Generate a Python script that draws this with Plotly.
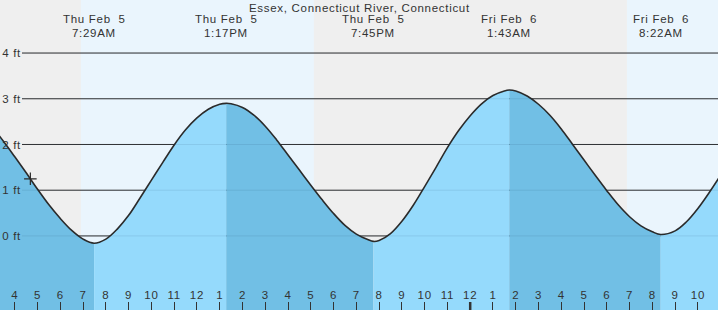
import plotly.graph_objects as go
import pandas as pd

location = "Essex, Connecticut River, Connecticut"

tide_times = [
    "2026-02-05 02:30", "2026-02-05 03:00", "2026-02-05 03:30", "2026-02-05 04:00",
    "2026-02-05 04:30", "2026-02-05 05:00", "2026-02-05 05:30", "2026-02-05 06:00",
    "2026-02-05 06:30", "2026-02-05 07:00", "2026-02-05 07:29", "2026-02-05 08:00",
    "2026-02-05 08:30", "2026-02-05 09:00", "2026-02-05 09:30", "2026-02-05 10:00",
    "2026-02-05 10:30", "2026-02-05 11:00", "2026-02-05 11:30", "2026-02-05 12:00",
    "2026-02-05 12:30", "2026-02-05 13:00", "2026-02-05 13:17", "2026-02-05 13:30",
    "2026-02-05 14:00", "2026-02-05 14:30", "2026-02-05 15:00", "2026-02-05 15:30",
    "2026-02-05 16:00", "2026-02-05 16:30", "2026-02-05 17:00", "2026-02-05 17:30",
    "2026-02-05 18:00", "2026-02-05 18:30", "2026-02-05 19:00", "2026-02-05 19:30",
    "2026-02-05 19:45", "2026-02-05 20:00", "2026-02-05 20:30", "2026-02-05 21:00",
    "2026-02-05 21:30", "2026-02-05 22:00", "2026-02-05 22:30", "2026-02-05 23:00",
    "2026-02-05 23:30", "2026-02-06 00:00", "2026-02-06 00:30", "2026-02-06 01:00",
    "2026-02-06 01:30", "2026-02-06 01:43", "2026-02-06 02:00", "2026-02-06 02:30",
    "2026-02-06 03:00", "2026-02-06 03:30", "2026-02-06 04:00", "2026-02-06 04:30",
    "2026-02-06 05:00", "2026-02-06 05:30", "2026-02-06 06:00", "2026-02-06 06:30",
    "2026-02-06 07:00", "2026-02-06 07:30", "2026-02-06 08:00", "2026-02-06 08:22",
    "2026-02-06 09:00", "2026-02-06 09:30", "2026-02-06 10:00", "2026-02-06 10:30",
    "2026-02-06 11:00", "2026-02-06 11:30",
]
tide_heights = [
    2.68, 2.39, 2.07, 1.73,
    1.38, 1.02, 0.68, 0.38,
    0.12, -0.07, -0.16, -0.07,
    0.15, 0.45, 0.83, 1.22,
    1.61, 1.99, 2.32, 2.58,
    2.77, 2.88, 2.90, 2.89,
    2.81, 2.64, 2.40, 2.10,
    1.77, 1.44, 1.11, 0.79,
    0.49, 0.23, 0.04, -0.08,
    -0.12, -0.10, 0.05, 0.32,
    0.67, 1.08, 1.50, 1.93,
    2.31, 2.63, 2.89, 3.07,
    3.17, 3.19, 3.17, 3.06,
    2.88, 2.64, 2.34, 2.00,
    1.66, 1.32, 0.99, 0.68,
    0.42, 0.22, 0.09, 0.03,
    0.11, 0.31, 0.60, 0.95,
    1.33, 1.73,
]

event_times = ["2026-02-05 07:29", "2026-02-05 13:17", "2026-02-05 19:45",
               "2026-02-06 01:43", "2026-02-06 08:22"]
event_days = ["Thu Feb\u00a0 5", "Thu Feb\u00a0 5", "Thu Feb\u00a0 5",
              "Fri Feb\u00a0 6", "Fri Feb\u00a0 6"]
event_clock = ["7:29AM", "1:17PM", "7:45PM", "1:43AM", "8:22AM"]

daylight_start = ["2026-02-05 06:54", "2026-02-06 06:53"]
daylight_end = ["2026-02-05 17:08", "2026-02-06 12:00"]

now_time = ["2026-02-05 04:41"]
now_height = [1.25]

hour_tick_times = pd.date_range("2026-02-05 04:00", "2026-02-06 11:00", freq="h")
hour_tick_labels = ["4", "5", "6", "7", "8", "9", "10", "11", "12", "1", "2", "3",
                    "4", "5", "6", "7", "8", "9", "10", "11", "12", "1", "2", "3",
                    "4", "5", "6", "7", "8", "9", "10", "11"]
midnight = "2026-02-06 00:00"

y_ticks = [0, 1, 2, 3, 4]
y_tick_labels = ["0 ft", "1 ft", "2 ft", "3 ft", "4 ft"]

x_range = ["2026-02-05 03:21", "2026-02-06 10:53"]
y_range = [-1.62, 5.16]

W, H = 718, 310
FONT = "Arial, Liberation Sans, sans-serif"
TXT = "#333333"
NIGHT = "#efefef"
DAY = "#eaf5fd"
FALL = "#71bfe5"
RISE = "#95dafc"
LS = "letter-spacing:0.7px"


def sp(t):
    return f'<span style="{LS}">{t}</span>'


fig = go.Figure()

# water fills, split at the high / low events
bounds = [0] + [tide_times.index(t) for t in event_times] + [len(tide_times) - 1]
for a, b in zip(bounds[:-1], bounds[1:]):
    xs = tide_times[a:b + 1]
    ys = tide_heights[a:b + 1]
    col = FALL if ys[-1] < ys[0] else RISE
    fig.add_trace(go.Scatter(x=[xs[0], xs[-1]], y=[-3, -3], mode="lines",
                             line=dict(width=0), hoverinfo="skip", showlegend=False))
    fig.add_trace(go.Scatter(x=xs, y=ys, mode="lines", fill="tonexty", fillcolor=col,
                             line=dict(width=0, shape="spline"), hoverinfo="skip",
                             showlegend=False))

# tide curve
fig.add_trace(go.Scatter(x=tide_times, y=tide_heights, mode="lines",
                         line=dict(color="#2b2b2b", width=1.6, shape="spline"),
                         hoverinfo="skip", showlegend=False))

# current time marker
fig.add_trace(go.Scatter(x=now_time, y=now_height, mode="markers",
                         marker=dict(symbol="cross-thin", size=9,
                                     line=dict(color="#2b2b2b", width=1.2)),
                         hoverinfo="skip", showlegend=False))

shapes = []
for s, e in zip(daylight_start, daylight_end):
    shapes.append(dict(type="rect", xref="x", yref="paper", x0=s, x1=e, y0=0, y1=1,
                       fillcolor=DAY, line=dict(width=0), layer="below"))
for v in y_ticks:
    shapes.append(dict(type="line", xref="paper", yref="y", x0=22 / W, x1=1, y0=v, y1=v,
                       line=dict(color="#333333", width=1), layer="below"))
    shapes.append(dict(type="line", xref="paper", yref="y", x0=22 / W, x1=1, y0=v, y1=v,
                       line=dict(color="rgba(0,30,70,0.09)", width=1), layer="above"))
shapes.append(dict(type="line", xref="x", yref="paper", x0=midnight, x1=midnight,
                   y0=0, y1=8 / H, line=dict(color="#333333", width=2.5), layer="above"))

annotations = [dict(text=sp(location), xref="paper", yref="paper", x=0.5, y=1 - 8 / H,
                    xanchor="center", yanchor="middle", showarrow=False,
                    font=dict(family=FONT, size=11.5, color=TXT))]
for t, d, c in zip(event_times, event_days, event_clock):
    annotations.append(dict(text=sp(d), xref="x", yref="paper", x=t, y=1 - 19.5 / H,
                            xanchor="center", yanchor="middle", showarrow=False,
                            font=dict(family=FONT, size=11.5, color=TXT)))
    annotations.append(dict(text=sp(c), xref="x", yref="paper", x=t, y=1 - 32.5 / H,
                            xanchor="center", yanchor="middle", showarrow=False,
                            font=dict(family=FONT, size=11.5, color=TXT)))

fig.update_layout(
    width=W, height=H, margin=dict(l=0, r=0, t=0, b=0, pad=0),
    paper_bgcolor=NIGHT, plot_bgcolor=NIGHT,
    showlegend=False, shapes=shapes, annotations=annotations,
    xaxis=dict(type="date", range=x_range, tickvals=hour_tick_times,
               ticktext=[sp(l) for l in hour_tick_labels],
               ticks="inside", ticklen=8, tickwidth=1, tickcolor="#333333",
               ticklabelposition="inside", showgrid=False, zeroline=False,
               showline=False, tickfont=dict(family=FONT, size=11.5, color=TXT),
               fixedrange=True),
    yaxis=dict(range=y_range, tickvals=y_ticks, ticktext=[sp(l) for l in y_tick_labels],
               ticks="", ticklabelposition="outside", anchor="free", position=21 / W,
               side="left", showgrid=False, zeroline=False,
               showline=False, tickfont=dict(family=FONT, size=11.5, color=TXT),
               fixedrange=True),
)

fig.write_html("out.html")
